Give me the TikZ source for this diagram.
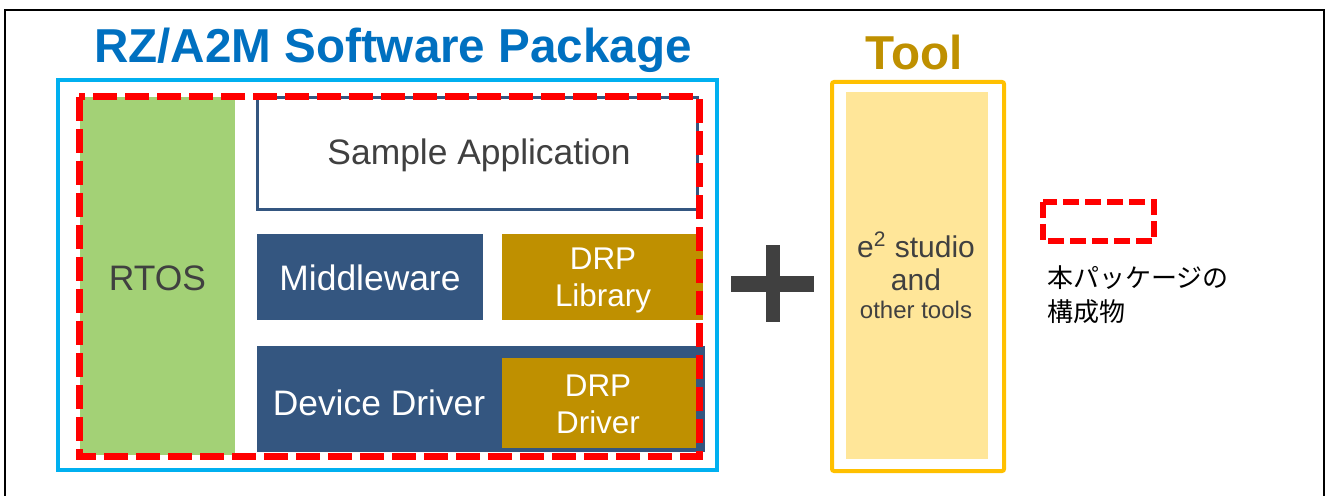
\documentclass[tikz,border=0pt]{standalone}
\usepackage{fontspec}
\setmainfont{Liberation Sans}
\newfontfamily\jpfont{Noto Sans CJK JP}
\usetikzlibrary{calc}

\definecolor{pkgblue}{HTML}{0070C0}
\definecolor{framecyan}{HTML}{00B0F0}
\definecolor{rtosgreen}{HTML}{A3D176}
\definecolor{swnavy}{HTML}{345680}
\definecolor{drpgold}{HTML}{BF9000}
\definecolor{toolyellow}{HTML}{FFC000}
\definecolor{toolfill}{HTML}{FFE699}
\definecolor{darkgray}{HTML}{404040}

\begin{document}
\begin{tikzpicture}[x=0.5pt, y=-0.5pt,
  title/.style={font=\bfseries\fontsize{23.8}{26}\selectfont},
  layer/.style={font=\fontsize{17.7}{20}\selectfont},
  drp/.style={font=\fontsize{15.7}{18.5}\selectfont, text=white, align=center},
  pkgline/.style={red, line width=3.5pt, dash pattern=on 12pt off 4pt}]

\useasboundingbox (0,0) rectangle (1326,496);
\draw[line width=1pt] (5,496) -- (5,10) -- (1324,10) -- (1324,496);

% software package
\node (pkgtitle) [title, text=pkgblue] at (393,50) {RZ/A2M Software Package};
\draw[framecyan, line width=2pt] (58,80) rectangle (717,470);

\fill[rtosgreen] (80,97) rectangle (235,455);
\node (rtos) [layer, text=darkgray] at (157.5,278) {RTOS};

\draw[swnavy, line width=1.5pt, fill=white] (257,98) rectangle (697,210);
\node (sample) [layer, text=darkgray] at (479,155) {Sample Application};

\fill[swnavy] (257,234) rectangle (483,320);
\node (mw) [layer, text=white] at (370,278) {Middleware};
\fill[drpgold] (502,234) rectangle (703,320);
\node (drplib) [drp] at (603,280) {DRP\\Library};

\fill[swnavy] (257,346) rectangle (705,452);
\node (devdrv) [layer, text=white] at (379,403) {Device Driver};
\fill[drpgold] (502,358) rectangle (696,448);
\node (drpdrv) [drp] at (598,404) {DRP\\Driver};

\draw[pkgline] (79,97) rectangle (699,456);

% plus
\fill[darkgray] (731,276) rectangle (814,292);
\fill[darkgray] (766,245) rectangle (780,322);

% tool
\node (tooltitle) [title, text=drpgold] at (914,52) {Tool};
\draw[toolyellow, line width=2pt, rounded corners=1pt] (832,82) rectangle (1004,471);
\fill[toolfill] (846,92) rectangle (988,459);
\node (e2) [font=\fontsize{15}{18}\selectfont, text=darkgray] at (916,245) {e\textsuperscript{2} studio};
\node (and) [font=\fontsize{15}{18}\selectfont, text=darkgray] at (916,280) {and};
\node (other) [font=\fontsize{12}{14}\selectfont, text=darkgray] at (916,310) {other tools};

% legend
\draw[red, line width=2.8pt, dash pattern=on 8pt off 3pt] (1043,202) rectangle (1154,241);
\node (legendtxt) [anchor=west, align=left, font=\jpfont\fontsize{13}{17}\selectfont] at (1040,295) {本パッケージの\\構成物};

\end{tikzpicture}
\end{document}
